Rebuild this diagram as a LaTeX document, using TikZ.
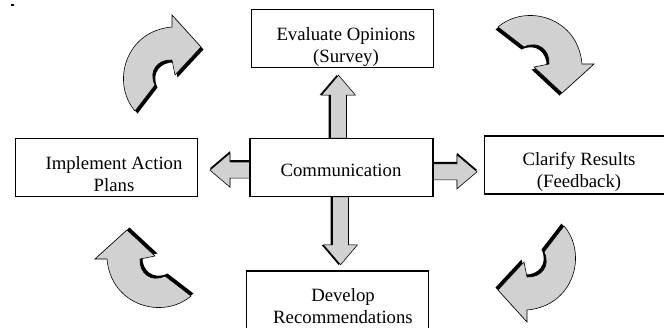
\documentclass[tikz,border=0pt]{standalone}
\usepackage{fontspec}
\setmainfont{Liberation Serif}
% outline of one curved arrow, drawn in pixel units round its own centre
\newcommand\turnpath{(-28,48) .. controls (-52,20) and (-38,-32) .. (9,-36) -- (9,-48) -- (38,-16) -- (12,12) -- (9,-3) .. controls (-5,-4) and (-15,8) .. (-8,22) -- cycle}
% straight block arrow of length #1, pointing along x
\newcommand\blockpath[1]{(0,-8) -- ({#1-20},-8) -- ({#1-20},-17) -- (#1,0) -- ({#1-20},17) -- ({#1-20},8) -- (0,8) -- cycle}
\begin{document}
\begin{tikzpicture}[x=0.03cm,y=-0.03cm,
    box/.style={draw,line width=1.1pt,fill=white,minimum width=5.45cm,minimum height=1.72cm,inner sep=0pt},
    txt/.style={align=center,font=\fontsize{16}{19}\selectfont,inner sep=0pt},
    turn/.style={fill=black!18,draw=black,line width=0.5pt}]
  \useasboundingbox (0,0) rectangle (664,327);
  \clip (0,0) rectangle (664,327);
  \fill (11,4) rectangle (14,6);

  % curved arrows round the cycle
  \foreach \cx/\cy/\ang in {163/63/0, 546/55/-90, 536/274/180, 143/268/90}
  {
    \begin{scope}[shift={(\cx,\cy)},rotate=\ang]
      \fill[black,shift={(2.5,2.5)}] \turnpath;
      \filldraw[turn] \turnpath;
    \end{scope}
  }

  % boxes
  \node (comm) [box] at (341.5,167.5) {};
  \node (eval) [box] at (342.5,38.5) {};
  \node (impl) [box] at (106.5,167.5) {};
  \node (clar) [box,minimum height=1.74cm] at (575.5,165) {};
  \node (devel) [box,minimum height=1.77cm] at (337.5,300.5) {};

  % block arrows out of the centre box
  \coordinate (upfoot) at ([xshift=-0.09cm]comm.north);
  \coordinate (downfoot) at ([xshift=-0.03cm]comm.south);
  \coordinate (leftfoot) at ([yshift=-0.08cm]comm.west);
  \coordinate (rightfoot) at ([yshift=-0.13cm]comm.east);
  \foreach \foot/\ang/\len/\sh in {upfoot/90/63/-2, rightfoot/0/44/-2, leftfoot/180/40/2, downfoot/-90/68/2}
  {
    \begin{scope}[shift={(\foot)},rotate=\ang]
      \fill[black,shift={(0,\sh)}] \blockpath{\len};
      \filldraw[turn] \blockpath{\len};
    \end{scope}
  }
  \draw[line width=1.1pt] (comm.north west) rectangle (comm.south east);

  % labels
  \node (commtxt) [txt] at (341,170) {Communication};
  \node (evaltxt) [txt] at (346,47) {Evaluate Opinions\\(Survey)};
  \node (impltxt) [txt] at (114,174) {Implement Action\\Plans};
  \node (clartxt) [txt] at (579,172) {Clarify Results\\(Feedback)};
  \node (develtxt) [txt] at (343,306) {Develop\\Recommendations};
\end{tikzpicture}
\end{document}
